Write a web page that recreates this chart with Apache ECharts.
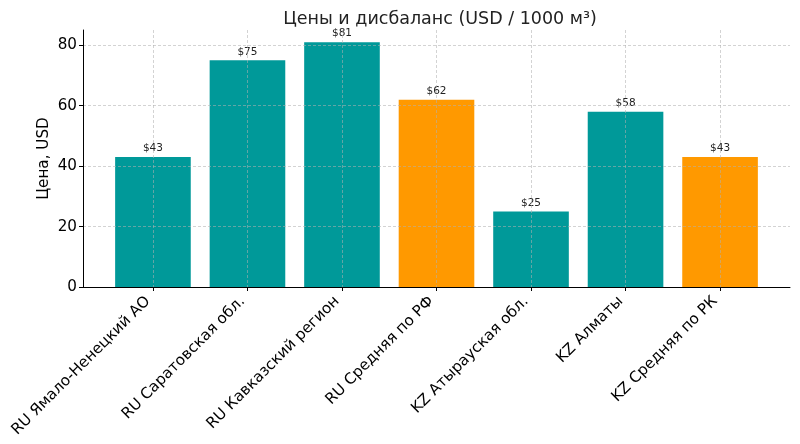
<!DOCTYPE html>
<html>
<head>
<meta charset="utf-8">
<script src="https://cdn.jsdelivr.net/npm/echarts@6/dist/echarts.min.js"></script>
<style>html,body{margin:0;padding:0;background:#fff}#c{width:800px;height:444px}</style>
</head>
<body>
<div id="c"></div>
<script>
const title = 'Цены и дисбаланс (USD / 1000 м³)';
const yName = 'Цена, USD';
const categories = ['RU Ямало-Ненецкий АО', 'RU Саратовская обл.', 'RU Кавказский регион', 'RU Средняя по РФ', 'KZ Атырауская обл.', 'KZ Алматы', 'KZ Средняя по РК'];
const prices = [43, 75, 81, 62, 25, 58, 43];
const yTicks = [0, 20, 40, 60, 80];

const TEAL = '#009999', ORANGE = '#ff9900';
const xIdx = categories.map((_, i) => i);
const data = prices.map((v, i) => ({
  value: [i, v],
  itemStyle: { color: categories[i].includes('Средняя') ? ORANGE : TEAL }
}));
const font = 'DejaVu Sans';
const gridLine = { show: true, lineStyle: { color: '#b0b0b0', opacity: 0.7, width: 0.8, type: [3, 2] } };

const chart = echarts.init(document.getElementById('c'));
chart.setOption({
  animation: false,
  title: { text: title, left: 435, textAlign: 'center', top: 5, textStyle: { fontFamily: font, fontSize: 17.5, fontWeight: 'normal', color: '#222' } },
  grid: { left: 83, right: 10, top: 30, bottom: 157, containLabel: false },
  xAxis: {
    type: 'value', min: -0.74, max: 6.74, z: 5,
    axisLine: { show: true, onZero: false, lineStyle: { color: '#000', width: 1 } },
    axisTick: { show: true, length: 4, customValues: xIdx, lineStyle: { color: '#000' } },
    axisLabel: { customValues: xIdx, rotate: 45, fontFamily: font, fontSize: 15.2, color: '#000', margin: 7,
      padding: [0, 7, 0, 0],
      formatter: v => categories[Math.round(v)] },
    splitLine: gridLine
  },
  yAxis: {
    type: 'value', min: 0, max: 85.05, z: 5,
    name: yName, nameLocation: 'middle', nameGap: 31, nameRotate: 90, nameMoveOverlap: false,
    nameTextStyle: { fontFamily: font, fontSize: 15.2, color: '#000' },
    axisLine: { show: true, onZero: false, lineStyle: { color: '#000', width: 1 } },
    axisTick: { show: true, length: 4, customValues: yTicks, lineStyle: { color: '#000' } },
    axisLabel: { customValues: yTicks, fontFamily: font, fontSize: 15.2, color: '#000', margin: 6 },
    splitLine: gridLine
  },
  series: [{
    type: 'bar', data: data, barWidth: '80%', z: 2,
    label: { show: true, position: 'top', distance: 3, fontFamily: font, fontSize: 10.5, color: '#222',
      formatter: p => '$' + p.value[1] }
  }]
});
</script>
</body>
</html>
